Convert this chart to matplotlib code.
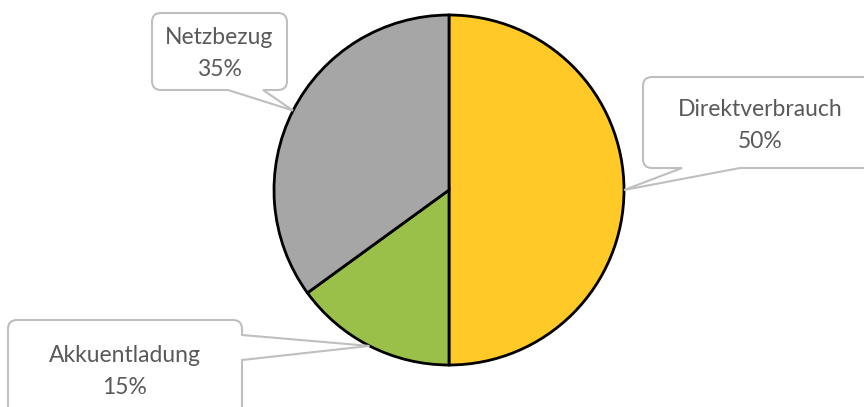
import matplotlib
matplotlib.use("Agg")
import matplotlib.pyplot as plt
from matplotlib.path import Path
from matplotlib.patches import PathPatch
import numpy as np

labels = ["Direktverbrauch", "Akkuentladung", "Netzbezug"]
shares = [50, 15, 35]
colors = ["#FFCA28", "#9BC04A", "#A6A6A6"]

W, H = 864, 407
fig = plt.figure(figsize=(W / 100, H / 100), dpi=100)
ax = fig.add_axes([0, 0, 1, 1])
plt.rcParams['font.family'] = ['Lato', 'DejaVu Sans']

# pie in pixel space (y up)
cx, cy, R = 449, H - 190, 175
wedges, _ = ax.pie(shares, colors=colors, startangle=90, counterclock=False,
                   center=(cx, cy), radius=R, frame=True,
                   wedgeprops=dict(edgecolor="black", linewidth=2))
ax.set_xlim(0, W)
ax.set_ylim(0, H)
ax.set_aspect("equal")
ax.axis("off")


def callout(x0, y0, x1, y1, side, a, b, tip, r=9):
    # box corners given in pixel coords (y down); converted to data
    P = lambda x, y: (x, H - y)
    v, c = [], []

    def line(x, y):
        v.append(P(x, y)); c.append(Path.LINETO)

    def curve(cxp, cyp, x, y):
        v.extend([P(cxp, cyp), P(x, y)]); c.extend([Path.CURVE3, Path.CURVE3])

    v.append(P(x0 + r, y0)); c.append(Path.MOVETO)
    line(x1 - r, y0)
    curve(x1, y0, x1, y0 + r)
    if side == "right":
        line(x1, a); line(*tip); line(x1, b)
    line(x1, y1 - r)
    curve(x1, y1, x1 - r, y1)
    if side == "bottom":
        line(b, y1); line(*tip); line(a, y1)
    line(x0 + r, y1)
    curve(x0, y1, x0, y1 - r)
    line(x0, y0 + r)
    curve(x0, y0, x0 + r, y0)
    v.append(P(x0 + r, y0)); c.append(Path.CLOSEPOLY)
    ax.add_patch(PathPatch(Path(v, c), facecolor="white", edgecolor="#BFBFBF",
                           linewidth=1.5, zorder=5))


def tip_of(w):
    ang = np.deg2rad((w.theta1 + w.theta2) / 2)
    return (cx + R * np.cos(ang), H - (cy + R * np.sin(ang)))


boxes = {
    "Direktverbrauch": (643, 77, 875, 168, "bottom", 682, 740, (760, 109)),
    "Akkuentladung": (8, 320, 242, 420, "right", 335, 360, (125, 355)),
    "Netzbezug": (152, 13, 287, 90, "bottom", 228, 263, (219, 38)),
}

for lab, val, w in zip(labels, shares, wedges):
    x0, y0, x1, y1, side, a, b, (tx, ty) = boxes[lab]
    callout(x0, y0, x1, y1, side, a, b, tip_of(w))
    ax.text(tx, H - ty, lab, ha="center", va="center", fontsize=16.5,
            color="#595959", zorder=6)
    ax.text(tx, H - ty - 32, f"{val}%", ha="center", va="center", fontsize=16.5,
            color="#595959", zorder=6)

fig.savefig("out.png", dpi=100)
